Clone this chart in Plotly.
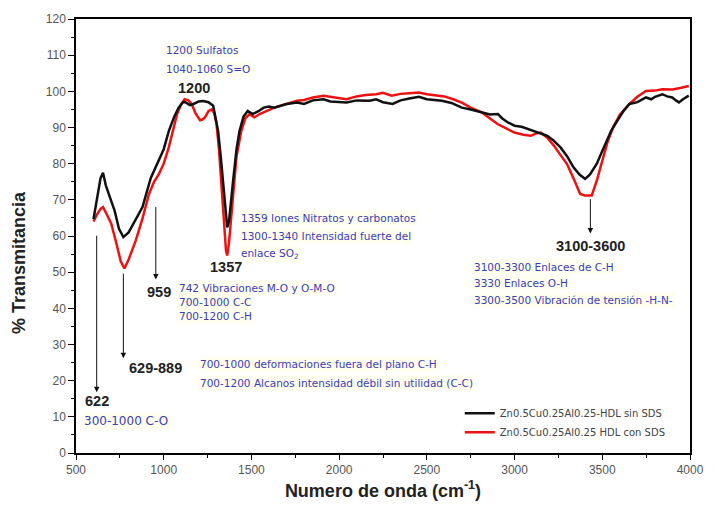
import plotly.graph_objects as go

# Black: Zn0.5Cu0.25Al0.25-HDL sin SDS
wn_sin = [600, 620, 640, 654, 670, 691, 720, 745, 770, 800, 840, 879, 926, 973, 1000, 1029, 1060, 1085,
          1110, 1123, 1150, 1170, 1200, 1226, 1255, 1282, 1300, 1310, 1325, 1338, 1352, 1362, 1372, 1385,
          1395, 1415, 1432, 1455, 1479, 1507, 1540, 1570, 1600, 1630, 1660, 1700, 1761, 1800, 1850, 1911,
          1950, 2000, 2042, 2100, 2174, 2211, 2250, 2305, 2350, 2400, 2455, 2500, 2550, 2586, 2640, 2699,
          2750, 2812, 2860, 2905, 2930, 2962, 3000, 3040, 3074, 3120, 3160, 3187, 3220, 3262, 3300, 3336,
          3370, 3402, 3430, 3468, 3500, 3524, 3550, 3580, 3620, 3655, 3700, 3749, 3780, 3800, 3843, 3870,
          3899, 3920, 3937, 3960, 3993]
t_sin = [64.7, 70, 76, 77.5, 74, 71, 67, 62, 59.7, 61, 64.5, 68, 76, 81.3, 84, 89, 93, 95.5,
         97, 97, 96.2, 96.5, 97.2, 97.3, 97, 96, 92, 89, 82, 75, 66, 62.4, 64, 71,
         75, 84, 89, 93, 94.6, 93.7, 94.5, 95.5, 95.8, 95.5, 96, 96.5, 96.9, 96.5, 97.5, 97.8,
         97.2, 97, 96.9, 97.5, 97.4, 97.8, 97, 96.5, 97.5, 98, 98.5, 97.8, 97.6, 97.4, 96.8, 95.5,
         95, 94.2, 93.6, 93.7, 92.5, 91.4, 90.5, 90.2, 89.6, 89, 88.3, 87.7, 86.5, 84.5, 82, 79,
         77, 75.8, 77, 79.9, 83.5, 86.3, 89, 91.4, 94.5, 96.5, 97, 98.3, 97.8, 98.5, 99.2, 98.6,
         98.3, 97.5, 96.9, 97.8, 98.8]

# Red: Zn0.5Cu0.25Al0.25 HDL con SDS
wn_con = [600, 620, 640, 654, 675, 701, 730, 755, 776, 800, 841, 880, 916, 945, 973, 1000, 1029, 1050,
          1076, 1100, 1119, 1140, 1160, 1180, 1207, 1220, 1235, 1255, 1273, 1288, 1301, 1315, 1329, 1345,
          1355, 1362, 1372, 1385, 1395, 1415, 1442, 1465, 1489, 1517, 1550, 1592, 1630, 1700, 1761, 1800,
          1850, 1911, 1950, 2000, 2042, 2100, 2150, 2211, 2249, 2300, 2350, 2400, 2455, 2500, 2550, 2600,
          2650, 2699, 2750, 2812, 2860, 2905, 2950, 2999, 3050, 3093, 3120, 3149, 3190, 3224, 3260, 3299,
          3340, 3374, 3400, 3440, 3470, 3505, 3530, 3561, 3600, 3655, 3700, 3749, 3800, 3843, 3900, 3950,
          3993]
t_con = [64, 66, 67.5, 68, 66, 63.4, 58, 53, 51, 53.5, 58.8, 65, 71.6, 75, 77.2, 80, 84.5, 89,
         93.7, 96.5, 97.8, 97.5, 96.5, 94, 92, 92.2, 92.8, 94.5, 95, 94, 91, 84, 75.3, 63,
         56, 54.6, 58, 65, 70.7, 82, 89, 92.5, 93.7, 92.8, 93.8, 94.6, 95.5, 96.5, 97.4, 97.6,
         98.3, 98.8, 98.5, 98, 97.8, 98.6, 99, 99.2, 99.6, 98.8, 99.3, 99.5, 99.7, 99.2, 99, 98.6,
         97.8, 96.9, 95.5, 94.2, 92.5, 90.9, 89.8, 88.6, 88, 87.7, 88.3, 88.6, 87, 85, 82.5, 79.9,
         75.5, 71.6, 71.2, 71.2, 75.5, 81.7, 86, 90, 93.5, 96.5, 98.5, 100.1, 100.2, 100.6, 100.5, 101,
         101.5]

x_ticks = [500, 1000, 1500, 2000, 2500, 3000, 3500, 4000]
y_ticks = [0, 10, 20, 30, 40, 50, 60, 70, 80, 90, 100, 110, 120]

FONT = "Liberation Sans, Arial, sans-serif"
BFONT = "DejaVu Sans, sans-serif"
BLUE = "#3b3bb8"
DARK = "#222222"

fig = go.Figure()
fig.add_trace(go.Scatter(x=wn_con, y=t_con, mode="lines", name="Zn0.5Cu0.25Al0.25 HDL con SDS",
                         line=dict(color="#ee1111", width=2.5), legendrank=2))
fig.add_trace(go.Scatter(x=wn_sin, y=t_sin, mode="lines", name="Zn0.5Cu0.25Al0.25-HDL sin SDS",
                         line=dict(color="#111111", width=2.5), legendrank=1))

ann = []
def blue(x, y, txt, size=10.5):
    ann.append(dict(x=x, y=y, text=txt, showarrow=False, xanchor="left", yanchor="middle",
                    font=dict(family=BFONT, size=size, color=BLUE), bgcolor="rgba(255,255,225,0.55)"))

def bold(x, y, txt, anchor="center"):
    ann.append(dict(x=x, y=y, text="<b>" + txt + "</b>", showarrow=False, xanchor=anchor, yanchor="middle",
                    font=dict(family=FONT, size=14.5, color=DARK)))

def arrow(x, y0, y1):
    ann.append(dict(x=x, y=y1, ax=x, ay=y0, axref="x", ayref="y", xref="x", yref="y", text="",
                    showarrow=True, arrowhead=2, arrowsize=1.1, arrowwidth=1, arrowcolor="#111111"))

blue(1001, 111.4, "1200 Sulfatos")
blue(1001, 106.2, "1040-1060 S=O")
bold(1175, 100.9, "1200")
blue(1429, 65.1, "1359 Iones Nitratos y carbonatos")
blue(1429, 59.9, "1300-1340 Intensidad fuerte del")
blue(1429, 54.9, "enlace SO<sub>2</sub>")
bold(1355, 51.4, "1357")
bold(973, 44.4, "959")
blue(1074, 45.5, "742 Vibraciones M-O y O-M-O")
blue(1074, 41.7, "700-1000 C-C")
blue(1074, 37.8, "700-1200 C-H")
bold(3432, 57.1, "3100-3600")
blue(2757, 51.3, "3100-3300 Enlaces de C-H")
blue(2757, 46.9, "3330 Enlaces O-H")
blue(2757, 42.2, "3300-3500 Vibración de tensión -H-N-")
bold(793, 23.4, "629-889", anchor="left")
bold(618, 14.3, "622")
blue(534, 8.8, "300-1000 C-O", size=12)
blue(1198, 24.6, "700-1000 deformaciones fuera del plano C-H")
blue(1198, 19.3, "700-1200 Alcanos intensidad débil sin utilidad (C-C)")

arrow(618, 60.5, 16.8)
arrow(770, 50.0, 26.2)
arrow(955, 68.4, 48.0)
arrow(3432, 70.6, 60.7)

# y-axis title placed as a rotated annotation (sits a bit below the plot centre, as in the reference)
ann.append(dict(xref="paper", yref="paper", x=-0.093, y=0.44, text="<b>% Transmitancia</b>",
                textangle=-90, showarrow=False, xanchor="center", yanchor="middle",
                font=dict(family=FONT, size=18, color=DARK)))

fig.update_layout(
    width=716, height=515,
    margin=dict(l=76, r=18, t=18, b=62),
    paper_bgcolor="white", plot_bgcolor="white",
    font=dict(family=FONT, color="#444444", size=12),
    annotations=ann,
    showlegend=True,
    legend=dict(x=0.625, y=0.125, xanchor="left", yanchor="top", bgcolor="rgba(0,0,0,0)",
                font=dict(family=BFONT, size=10, color="#444444"), tracegroupgap=0,
                itemwidth=30),
)
fig.update_xaxes(range=[500, 4000], tickvals=x_ticks, ticktext=[str(v) for v in x_ticks],
                 ticks="outside", ticklen=5, tickcolor="black", showline=True, linecolor="black",
                 linewidth=1.5, mirror=True, showgrid=False, zeroline=False,
                 minor=dict(dtick=250, ticks="outside", ticklen=3, tickcolor="black"),
                 tickfont=dict(size=12, color="#555555"),
                 title=dict(text="<b>Numero de onda (cm<sup>-1</sup>)</b>", standoff=8,
                            font=dict(size=18, color=DARK)))
fig.update_yaxes(range=[0, 120], tickvals=y_ticks, ticktext=[str(v) for v in y_ticks],
                 ticks="outside", ticklen=6, tickcolor="black", showline=True, linecolor="black",
                 linewidth=1.5, mirror=True, showgrid=False, zeroline=False,
                 minor=dict(dtick=5, ticks="outside", ticklen=3, tickcolor="black"),
                 tickfont=dict(size=12, color="#555555"))

fig.write_html("out.html")
